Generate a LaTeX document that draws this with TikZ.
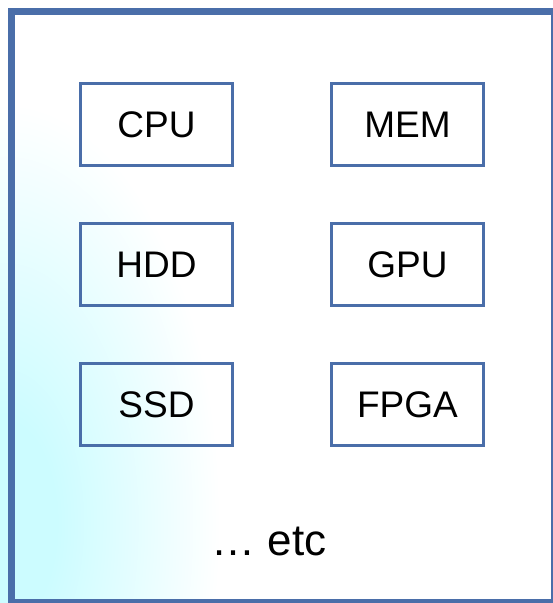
\documentclass[tikz,border=0pt]{standalone}
\usepackage{fontspec}
\setmainfont{Liberation Sans}
\usetikzlibrary{
  positioning
}
\definecolor{hwblue}{HTML}{4A6EA9}
\definecolor{hwglow}{HTML}{CCFCFF}
\pgfdeclareradialshading{hwglowshade}{\pgfpoint{0bp}{0bp}}{%
  color(0bp)=(hwglow); color(6bp)=(hwglow); color(25bp)=(white); color(50bp)=(white)}

\begin{document}
\begin{tikzpicture}[
      x=1pt, y=1pt,
      unit/.style={
        rectangle,
        minimum width=152pt, minimum height=82pt,
        draw=hwblue, line width=3pt,
        font=\fontsize{37}{44}\selectfont, align=center
      },
      frame/.style={draw=hwblue, line width=7pt},
      etcnote/.style={font=\fontsize{44}{52}\selectfont}
    ]
      \useasboundingbox (0,0) rectangle (553,603);

      % soft glow in the lower left corner
      \shade[shading=hwglowshade] (5,80) ellipse [x radius=215, y radius=420];

      \draw[frame] (11.5,0.5) rectangle (554.5,591.5);

      \node[unit] (cpu) at (156.5,478) {CPU};
      \node[unit, right=96pt of cpu] (mem) {MEM};
      \node[unit, below=55pt of cpu] (hdd) {HDD};
      \node[unit, right=96pt of hdd] (gpu) {GPU};
      \node[unit, below=55pt of hdd] (ssd) {SSD};
      \node[unit, right=96pt of ssd] (fpga) {FPGA};

      \node[etcnote, anchor=base] (etc) at (269,47) {…\ etc};
    \end{tikzpicture}
\end{document}
